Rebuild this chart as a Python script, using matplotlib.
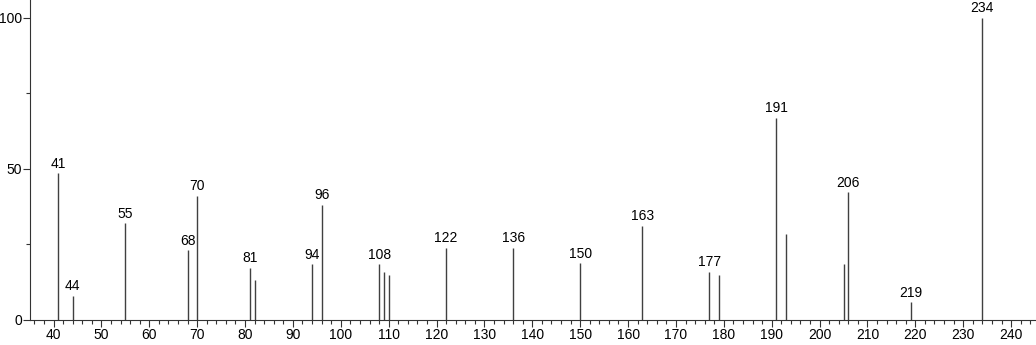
import numpy as np
import matplotlib
matplotlib.use('Agg')
import matplotlib.pyplot as plt
from matplotlib.ticker import MultipleLocator

# m/z values and relative intensities
mz = [41, 44, 55, 68, 70, 81, 82, 94, 96, 108, 109, 110, 122, 136, 150,
      163, 177, 179, 191, 193, 205, 206, 219, 234]
intensity = [48.5, 8.0, 32.0, 23.0, 41.0, 17.3, 13.2, 18.4, 38.1, 18.4, 16.0, 14.9,
             23.9, 23.9, 18.8, 31.1, 16.0, 14.9, 66.8, 28.4, 18.4, 42.2, 5.9, 100.0]
# peaks that carry a label
labelled = [41, 44, 55, 68, 70, 81, 94, 96, 108, 122, 136, 150, 163, 177, 191, 206, 219, 234]

plt.rcParams['font.family'] = ['Liberation Sans', 'DejaVu Sans']

fig = plt.figure(figsize=(10.36, 3.45), dpi=100)
ax = fig.add_axes([0.029, 0.0725, 0.971, 0.9275])

ax.vlines(mz, 0, intensity, color='#404040', linewidth=1.0)

for m, h in zip(mz, intensity):
    if m in labelled:
        ax.annotate(str(m), (m, h), xytext=(0, 1.8), textcoords='offset points',
                    ha='center', va='bottom', fontsize=10)

ax.set_xlim(35.1, 245.2)
ax.set_ylim(0, 105.8)
ax.xaxis.set_major_locator(MultipleLocator(10))
ax.xaxis.set_minor_locator(MultipleLocator(2))
ax.yaxis.set_major_locator(MultipleLocator(50))
ax.yaxis.set_minor_locator(MultipleLocator(25))
ax.tick_params(axis='both', which='major', length=5, width=0.8, labelsize=10, pad=0.8, color='#333333')
ax.tick_params(axis='both', which='minor', length=3, width=0.8, color='#333333')

for side in ['top', 'right']:
    ax.spines[side].set_visible(False)
for side in ['left', 'bottom']:
    ax.spines[side].set_linewidth(0.8)
    ax.spines[side].set_color('#333333')

fig.savefig('out.png', dpi=100, facecolor='white')
